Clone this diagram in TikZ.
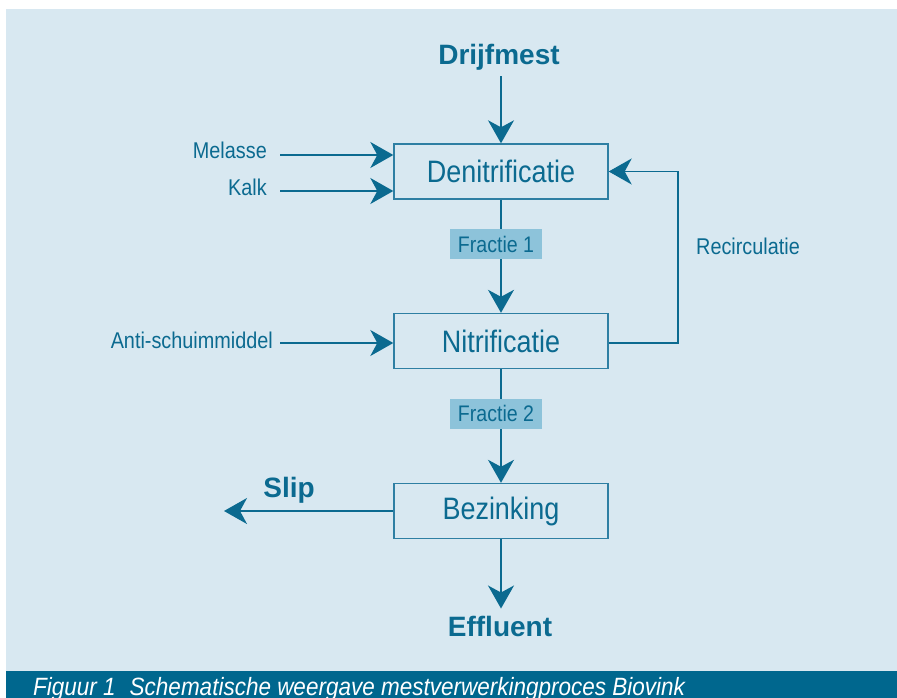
\documentclass[tikz,border=0pt]{standalone}
\usepackage{fontspec}
\setmainfont{Liberation Sans}[FakeStretch=0.87]
\newfontfamily\boldfnt{Liberation Sans}
\newfontfamily\capfnt{Liberation Sans}[FakeStretch=0.9]
\usetikzlibrary{arrows.meta}
\definecolor{bglight}{HTML}{D8E8F1}
\definecolor{barblue}{HTML}{00678E}
\definecolor{ink}{HTML}{0B6A90}
\definecolor{boxline}{HTML}{2E7FA3}
\definecolor{fracfill}{HTML}{8DC3DA}
\tikzset{
  procbox/.style={draw=boxline, line width=1.4pt, minimum width=214pt, minimum height=55pt, inner sep=0pt, text=ink, font=\fontsize{31}{36}\selectfont},
  fraclabel/.style={fill=fracfill, minimum width=92pt, minimum height=30pt, inner sep=0pt, text=ink, font=\fontsize{22.5}{26}\selectfont},
  sidelabel/.style={inner sep=0pt, text=ink, font=\fontsize{22.8}{26}\selectfont},
  biglabel/.style={inner sep=0pt, text=ink, font=\boldfnt\bfseries\fontsize{28}{32}\selectfont},
  flow/.style={draw=ink, line width=1.5pt, -{Stealth[length=23pt, width=26pt, inset=7pt]}}
}
\begin{document}
\begin{tikzpicture}[x=1pt, y=-1pt]
\useasboundingbox (0,0) rectangle (897,698);
\fill[white] (0,0) rectangle (897,698);
\fill[bglight] (6,9) rectangle (897,671);
\fill[barblue] (6,671) rectangle (897,698);
\node[anchor=base west, inner sep=0pt, text=white, font=\capfnt\itshape\fontsize{25}{28}\selectfont] (caption) at (33,695) {Figuur 1\hspace{14pt}Schematische weergave mestverwerkingproces Biovink};

% process boxes
\node[procbox] (deni) at (501,171.5) {Denitrificatie};
\node[procbox] (nitri) at (501,341) {Nitrificatie};
\node[procbox] (bez) at (501,511) {Bezinking};

% big labels
\node[biglabel, anchor=base] (drijf) at (499,65) {Drijfmest};
\node[biglabel, anchor=base] (effl) at (500,636) {Effluent};
\node[biglabel, anchor=base] (slip) at (289,497) {Slip};

% side labels
\node[sidelabel, anchor=base east] (mel) at (267,159) {Melasse};
\node[sidelabel, anchor=base east] (kalk) at (267,195) {Kalk};
\node[sidelabel, anchor=base east] (anti) at (273,348) {Anti-schuimmiddel};
\node[sidelabel, anchor=base west] (recirc) at (696,254) {Recirculatie};

% connector start/end points
\coordinate (melin) at (280,155);
\coordinate (kalkin) at (280,191);
\coordinate (antiin) at (280,343);
\coordinate (slipend) at (224,511);
\coordinate (rc) at (678,343);

% connectors
\draw[flow, shorten <=5pt] (deni.north |- drijf.south) -- (deni.north);
\draw[flow] (melin) -- (melin -| deni.west);
\draw[flow] (kalkin) -- (kalkin -| deni.west);
\draw[flow] (antiin) -- (antiin -| nitri.west);
\draw[flow] (deni.south) -- (nitri.north);
\draw[flow] (nitri.south) -- (bez.north);
\draw[flow] (nitri.east |- rc) -- (rc) |- (deni.east);
\draw[flow] (bez.west) -- (slipend);
\draw[flow, shorten >=7pt] (bez.south) -- (bez.south |- effl.north);

% fraction labels on top of the vertical connectors
\node[fraclabel] (fr1) at (496,244) {Fractie 1};
\node[fraclabel] (fr2) at (496,413.5) {Fractie 2};
\end{tikzpicture}
\end{document}
